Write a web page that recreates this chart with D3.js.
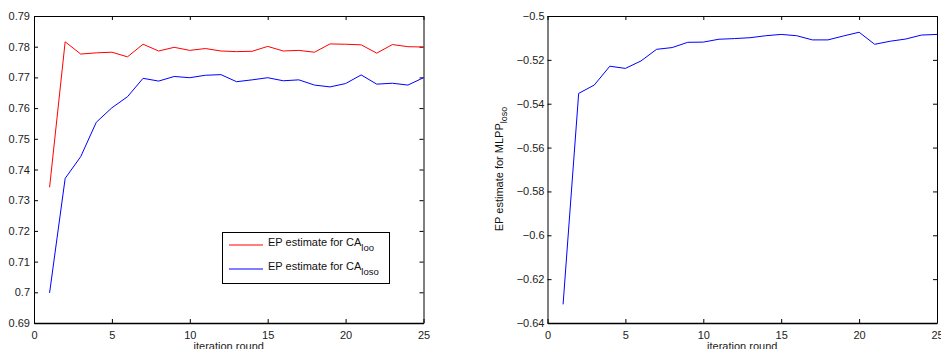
<!DOCTYPE html>
<html>
<head>
<meta charset="utf-8">
<script src="https://cdn.jsdelivr.net/npm/d3@7"></script>
<style>
  body { margin: 0; background: #fff; }
  svg { display: block; font-family: "Liberation Sans", Arial, sans-serif; }
  .axis text { font-size: 11px; fill: #222; }
  .axis path, .axis line { stroke: #000; }
</style>
</head>
<body>
<div id="chart"></div>
<script>
// iteration rounds 1..25
var rounds = [1,2,3,4,5,6,7,8,9,10,11,12,13,14,15,16,17,18,19,20,21,22,23,24,25];

// EP estimate for CA_loo (red)
var caLoo = [0.7342,0.7816,0.7776,0.7780,0.7782,0.7767,0.7808,0.7786,0.7798,0.7788,
             0.7794,0.7786,0.7784,0.7785,0.7801,0.7786,0.7788,0.7782,0.7809,0.7808,
             0.7806,0.7779,0.7807,0.7800,0.7799];

// EP estimate for CA_loso (blue)
var caLoso = [0.6998,0.7371,0.7442,0.7554,0.7601,0.7637,0.7697,0.7688,0.7703,0.7699,
              0.7707,0.7709,0.7686,0.7692,0.7699,0.7689,0.7692,0.7675,0.7669,0.7680,
              0.7708,0.7678,0.7681,0.7675,0.7699];

// EP estimate for MLPP_loso (right panel)
var mlppLoso = [-0.6315,-0.5353,-0.5315,-0.5229,-0.5239,-0.5205,-0.5152,-0.5144,-0.5120,-0.5119,
                -0.5106,-0.5103,-0.5099,-0.5090,-0.5084,-0.5090,-0.5109,-0.5109,-0.5091,-0.5074,
                -0.5129,-0.5115,-0.5105,-0.5087,-0.5084];

var xTicks = [0,5,10,15,20,25];
var leftTicks = [0.69,0.70,0.71,0.72,0.73,0.74,0.75,0.76,0.77,0.78,0.79];
var rightTicks = [-0.64,-0.62,-0.60,-0.58,-0.56,-0.54,-0.52,-0.50];

var W = 941, H = 349;
var svg = d3.select("#chart").append("svg")
    .attr("width", W)
    .attr("height", H);

var fmt = d3.format(".2~f");

function panel(left, right, yDomain, yTicks, pad) {
  var x = d3.scaleLinear().domain([0, 25]).range([left, right]);
  var y = d3.scaleLinear().domain(yDomain).range([323, 16]);

  var g = svg.append("g");

  g.append("g").attr("class", "axis")
      .attr("transform", "translate(0,323)")
      .call(d3.axisBottom(x).tickValues(xTicks).tickSize(-4).tickPadding(8).tickSizeOuter(0))
      .call(function(a){ a.select(".domain").attr("stroke-width", 1.3); });

  g.append("g").attr("class", "axis")
      .attr("transform", "translate(0,16)")
      .call(d3.axisTop(x).tickValues(xTicks).tickSize(-4).tickFormat("").tickSizeOuter(0));

  g.append("g").attr("class", "axis")
      .attr("transform", "translate(" + left + ",0)")
      .call(d3.axisLeft(y).tickValues(yTicks).tickSize(-4).tickPadding(pad).tickFormat(fmt).tickSizeOuter(0));

  g.append("g").attr("class", "axis")
      .attr("transform", "translate(" + right + ",0)")
      .call(d3.axisRight(y).tickValues(yTicks).tickSize(-4).tickFormat("").tickSizeOuter(0));

  g.append("text")
      .attr("x", (left + right) / 2)
      .attr("y", 350)
      .attr("text-anchor", "middle")
      .style("font-size", "11px")
      .style("fill", "#222")
      .text("iteration round");

  return { x: x, y: y, g: g };
}

// left panel
var p1 = panel(34, 423.5, [0.69, 0.79], leftTicks, 4);

var line1 = d3.line()
    .x(function(d, i){ return p1.x(rounds[i]); })
    .y(function(d){ return p1.y(d); });

p1.g.append("path").datum(caLoo)
    .attr("d", line1).attr("fill", "none").attr("stroke", "#ff0000").attr("stroke-width", 1);
p1.g.append("path").datum(caLoso)
    .attr("d", line1).attr("fill", "none").attr("stroke", "#0000ff").attr("stroke-width", 1);

// legend
var leg = p1.g.append("g");
leg.append("rect")
    .attr("x", 222.5).attr("y", 232.5).attr("width", 167).attr("height", 51)
    .attr("fill", "#fff").attr("stroke", "#000").attr("stroke-width", 1);

var legItems = [
  { color: "#ff0000", sub: "loo", y: 245 },
  { color: "#0000ff", sub: "loso", y: 269 }
];
legItems.forEach(function(it){
  leg.append("line")
      .attr("x1", 229).attr("x2", 263).attr("y1", it.y).attr("y2", it.y)
      .attr("stroke", it.color).attr("stroke-width", 1);
  var t = leg.append("text")
      .attr("x", 268).attr("y", it.y + 1)
      .style("font-size", "11px").style("fill", "#111");
  t.append("tspan").text("EP estimate for CA");
  t.append("tspan").attr("dy", 5).style("font-size", "9.5px").text(it.sub);
});

// right panel
var p2 = panel(547.5, 937, [-0.64, -0.5], rightTicks, 3);

var line2 = d3.line()
    .x(function(d, i){ return p2.x(rounds[i]); })
    .y(function(d){ return p2.y(d); });

p2.g.append("path").datum(mlppLoso)
    .attr("d", line2).attr("fill", "none").attr("stroke", "#0000ff").attr("stroke-width", 1);

var yl = p2.g.append("text")
    .attr("transform", "translate(503,169) rotate(-90)")
    .attr("text-anchor", "middle")
    .style("font-size", "11px")
    .style("fill", "#111");
yl.append("tspan").text("EP estimate for MLPP");
yl.append("tspan").attr("dy", 4).style("font-size", "9px").text("loso");
</script>
</body>
</html>
